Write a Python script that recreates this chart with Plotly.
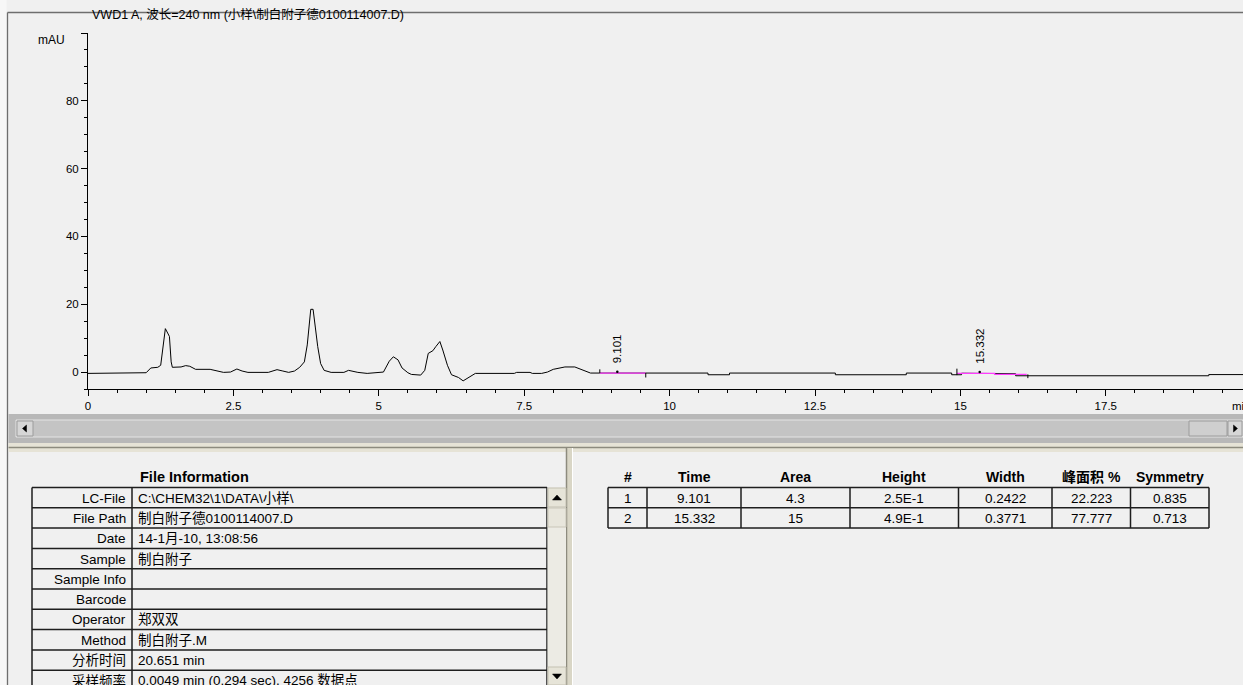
import plotly.graph_objects as go

W, H = 1243, 685

# ---------------- chromatogram data (time in min, signal in mAU) ----------------
time_min = [0.00, 0.90, 1.00, 1.08, 1.20, 1.25, 1.29, 1.33, 1.37, 1.40, 1.43, 1.45,
            1.60, 1.68, 1.75, 1.85, 2.10, 2.15, 2.33, 2.45, 2.56, 2.65, 2.75, 3.10,
            3.25, 3.35, 3.45, 3.55, 3.64, 3.72, 3.77, 3.83, 3.87, 3.91, 3.95, 4.00,
            4.06, 4.18, 4.40, 4.48, 4.55, 4.64, 4.80, 5.00, 5.08, 5.18, 5.25, 5.33,
            5.40, 5.50, 5.56, 5.72, 5.79, 5.85, 5.93, 5.98, 6.05, 6.10, 6.18, 6.25,
            6.37, 6.45, 6.56, 6.66, 7.33, 7.37, 7.60, 7.64, 7.80, 7.90, 8.00, 8.20,
            8.37, 8.48, 8.64, 8.80, 9.59, 10.66, 10.66, 11.03, 11.03, 12.85, 12.85,
            14.07, 14.07, 14.85, 14.85, 15.02, 15.02, 15.59, 15.62, 15.95, 15.95,
            19.27, 19.27, 19.90]
signal_mau = [-0.4, -0.4, -0.2, 1.2, 1.4, 2.0, 8.0, 12.8, 11.5, 10.5, 3.0, 1.4,
              1.5, 1.9, 1.7, 0.8, 0.8, 0.6, -0.1, 0.0, 0.9, 0.3, -0.1, -0.1,
              0.7, 0.3, -0.1, 0.3, 1.4, 3.0, 8.0, 18.5, 18.5, 13.0, 7.5, 2.5,
              0.5, -0.1, -0.1, 0.5, 0.2, -0.1, -0.4, 0.0, 0.0, 3.2, 4.5, 3.6,
              1.2, -0.2, -0.7, -0.9, 0.5, 5.5, 6.3, 7.5, 9.0, 6.5, 2.0, -0.8,
              -1.6, -2.6, -1.4, -0.4, -0.4, -0.1, -0.1, -0.4, -0.4, 0.0, 0.8, 1.5,
              1.5, 0.8, -0.3, -0.3, -0.3, -0.3, -0.8, -0.8, -0.3, -0.3, -0.8,
              -0.8, -0.3, -0.3, -0.8, -0.8, -0.35, -0.35, -0.5, -0.5, -1.1,
              -1.1, -0.75, -0.75]

# integration results
peak_no = [1, 2]
peak_time = [9.101, 15.332]
peak_area = ["4.3", "15"]
peak_height = ["2.5E-1", "4.9E-1"]
peak_width = [0.2422, 0.3771]
peak_area_pct = [22.223, 77.777]
peak_symmetry = [0.835, 0.713]
peak_apex_mau = [0.1, 0.0]

# integration baselines (pink) and event marks
base1_t = [8.80, 9.59]
base1_mau = [-0.3, -0.3]
base2_t = [14.94, 15.59, 15.59, 16.14]
base2_mau = [-0.38, -0.38, -0.68, -0.68]
event_t = [8.80, 9.59, 14.94, 16.16]
event_from = [-0.3, -0.3, -0.9, -0.7]
event_to = [0.8, -1.6, 1.0, -1.8]

x_ticks = [0, 2.5, 5, 7.5, 10, 12.5, 15, 17.5]
y_ticks = [0, 20, 40, 60, 80, 100]
y_ticktext = ["0", "20", "40", "60", "80", ""]

title_text = "VWD1 A, 波长=240 nm (小样\\制白附子德0100114007.D)"

file_labels = ["LC-File", "File Path", "Date", "Sample", "Sample Info", "Barcode",
               "Operator", "Method", "分析时间", "采样频率"]
file_values = ["C:\\CHEM32\\1\\DATA\\小样\\", "制白附子德0100114007.D",
               "14-1月-10, 13:08:56", "制白附子", "", "", "郑双双", "制白附子.M",
               "20.651 min", "0.0049 min (0.294 sec), 4256 数据点"]
peak_headers = ["#", "Time", "Area", "Height", "Width", "峰面积 %", "Symmetry"]

# ---------------- helpers (pixel -> paper) ----------------
def X(p):
    return p / W

def Y(p):
    return 1 - p / H

FONT = "Liberation Sans, Arial, Noto Sans CJK SC, sans-serif"
TFONT = FONT

shapes = []
annos = []

def rect(x0, y0, x1, y1, fill, line=None, lw=1):
    shapes.append(dict(type="rect", xref="paper", yref="paper",
                       x0=X(x0), x1=X(x1), y0=Y(y1), y1=Y(y0),
                       fillcolor=fill,
                       line=dict(color=line if line else fill, width=lw if line else 0)))

def seg(x0, y0, x1, y1, color, lw=1):
    shapes.append(dict(type="line", xref="paper", yref="paper",
                       x0=X(x0), x1=X(x1), y0=Y(y0), y1=Y(y1),
                       line=dict(color=color, width=lw)))

def tri(pts, color="black"):
    d = "M " + " L ".join(f"{X(a):.6f},{Y(b):.6f}" for a, b in pts) + " Z"
    shapes.append(dict(type="path", xref="paper", yref="paper", path=d,
                       fillcolor=color, line=dict(color=color, width=0.5)))

def text(x, y, s, size=11, xa="center", ya="middle", bold=False, font=FONT, color="black"):
    if bold:
        s = f"<b>{s}</b>"
    annos.append(dict(x=X(x), y=Y(y), xref="paper", yref="paper", text=s,
                      showarrow=False, xanchor=xa, yanchor=ya,
                      font=dict(family=font, size=size, color=color)))

# ---------------- figure ----------------
fig = go.Figure()

fig.add_trace(go.Scatter(x=time_min, y=signal_mau, mode="lines",
                         line=dict(color="black", width=1), hoverinfo="skip"))
fig.add_trace(go.Scatter(x=base1_t, y=base1_mau, mode="lines",
                         line=dict(color="#ff3cff", width=1.2), hoverinfo="skip"))
fig.add_trace(go.Scatter(x=base2_t, y=base2_mau, mode="lines",
                         line=dict(color="#ff3cff", width=1.2), hoverinfo="skip"))
ev_x, ev_y = [], []
for t, a, b in zip(event_t, event_from, event_to):
    ev_x += [t, t, None]
    ev_y += [a, b, None]
fig.add_trace(go.Scatter(x=ev_x, y=ev_y, mode="lines",
                         line=dict(color="black", width=1), hoverinfo="skip"))
fig.add_trace(go.Scatter(x=peak_time, y=peak_apex_mau, mode="markers",
                         marker=dict(color="black", size=2.5), hoverinfo="skip"))

# peak labels
for t, yc in zip(peak_time, [349, 346]):
    annos.append(dict(x=t, xref="x", y=Y(yc), yref="paper", text=f"{t:.3f}",
                      textangle=-90, showarrow=False, xanchor="center", yanchor="middle",
                      font=dict(family=FONT, size=11.5, color="black")))

# ---------------- window chrome ----------------
# frame
rect(0, 0, 6.5, 685, "#f7f7f7")
seg(7.5, 12.5, 1243, 12.5, "#6e6e6e", 1.3)
seg(7.5, 12.5, 7.5, 685, "#6e6e6e", 1.3)
text(90, 14, title_text, size=12.5, xa="left")
text(51, 40, "mAU", size=12)
text(1230, 406, "min", size=11.5, xa="left")

# horizontal scrollbar
rect(8.5, 414, 1243, 443, "#b8b8b8")
rect(16, 420, 1243, 437, "#c4c4c4", "#e4e4e4", 1)
rect(17, 421, 33, 436, "#d6d6d6", "#9c9c9c", 1)
tri([(22.5, 428.5), (26.5, 425), (26.5, 432)])
rect(1189, 421, 1227, 436, "#cfcfcf", "#9c9c9c", 1)
rect(1228, 421, 1242, 436, "#d6d6d6", "#9c9c9c", 1)
tri([(1237.5, 428.5), (1233.5, 425), (1233.5, 432)])

# horizontal splitter
rect(8.5, 443, 1243, 452, "#e6e3d6")
seg(8.5, 447.5, 1243, 447.5, "#8d8b7e", 1.5)

# vertical splitter
rect(566, 448, 572, 685, "#d9d6c6")
seg(566.5, 448, 566.5, 685, "#8d8b7e", 1.5)
seg(572.5, 448, 572.5, 685, "#ffffff", 1)

# ---------------- File Information table ----------------
ROW0, ROWH = 487.5, 20.3
text(194, 477, "File Information", size=14.5, bold=True)
for k in range(len(file_labels) + 1):
    yy = ROW0 + k * ROWH
    if yy <= H:
        seg(32, yy, 547, yy, "#1e1e1e", 1.5)
seg(32, ROW0, 32, 685, "#1e1e1e", 1.5)
seg(132, ROW0, 132, 685, "#1e1e1e", 1.5)
seg(547, ROW0, 547, 685, "#1e1e1e", 1.5)
for k, (lab, val) in enumerate(zip(file_labels, file_values)):
    yc = ROW0 + k * ROWH + ROWH / 2 + 0.5
    text(128, yc, lab, size=13.5, xa="right", font=TFONT)
    if val:
        text(136, yc, val, size=13.5, xa="left", font=TFONT)
# its scrollbar
rect(547.5, ROW0, 566, 685, "#ecebe4")
rect(548, 488, 566, 507, "#e6e4d8", "#c4c1b2", 1)
tri([(552.5, 500), (561.5, 500), (557, 495)])
rect(548, 508, 566, 527, "#e8e6dc", "#c9c6b8", 1)
rect(548, 667, 566, 685, "#e6e4d8", "#c4c1b2", 1)
tri([(552.5, 674), (561.5, 674), (557, 679)])

# ---------------- peak table ----------------
col_edges = [608, 647, 741, 850, 958.5, 1052, 1130.5, 1209]
col_c = [(a + b) / 2 for a, b in zip(col_edges[:-1], col_edges[1:])]
for c, h in zip(col_c, peak_headers):
    text(c, 477, h, size=14, bold=True)
n = len(peak_no)
for k in range(n + 1):
    seg(col_edges[0], ROW0 + k * ROWH, col_edges[-1], ROW0 + k * ROWH, "#1e1e1e", 1.5)
for e in col_edges:
    seg(e, ROW0, e, ROW0 + n * ROWH, "#1e1e1e", 1.5)
for k in range(n):
    row = [str(peak_no[k]), f"{peak_time[k]:.3f}", peak_area[k], peak_height[k],
           f"{peak_width[k]:.4f}", f"{peak_area_pct[k]:.3f}", f"{peak_symmetry[k]:.3f}"]
    yc = ROW0 + k * ROWH + ROWH / 2 + 0.5
    for c, s in zip(col_c, row):
        text(c, yc, s, size=13.5, font=TFONT)

# ---------------- layout ----------------
x_max = (W - 88) / 58.16
fig.update_layout(
    template="none",
    width=W, height=H,
    margin=dict(l=0, r=0, t=0, b=0),
    paper_bgcolor="#f0f0f0",
    plot_bgcolor="#f0f0f0",
    showlegend=False,
    font=dict(family=FONT, size=11, color="black"),
    shapes=shapes,
    annotations=annos,
    xaxis=dict(domain=[X(88), 1], range=[0, x_max], showgrid=False, zeroline=False,
               showline=True, linecolor="black", linewidth=1,
               ticks="outside", ticklen=6, tickcolor="black", tickwidth=1,
               tickvals=x_ticks, ticktext=[f"{v:g}" for v in x_ticks],
               tickfont=dict(family=FONT, size=11.5, color="black"),
               minor=dict(dtick=0.5, tick0=0, ticks="outside", ticklen=3,
                          tickcolor="black", tickwidth=1, showgrid=False),
               automargin=False, fixedrange=True),
    yaxis=dict(domain=[Y(389), Y(33)], range=[-5, 100], showgrid=False, zeroline=False,
               showline=True, linecolor="black", linewidth=1,
               ticks="outside", ticklen=6, tickcolor="black", tickwidth=1,
               tickvals=y_ticks, ticktext=y_ticktext,
               tickfont=dict(family=FONT, size=11.5, color="black"),
               minor=dict(dtick=5, tick0=0, ticks="outside", ticklen=3,
                          tickcolor="black", tickwidth=1, showgrid=False),
               automargin=False, fixedrange=True),
)

fig.write_html("out.html", config={"displayModeBar": False},
               post_script="document.body.style.margin='0';document.body.style.overflow='hidden';")
